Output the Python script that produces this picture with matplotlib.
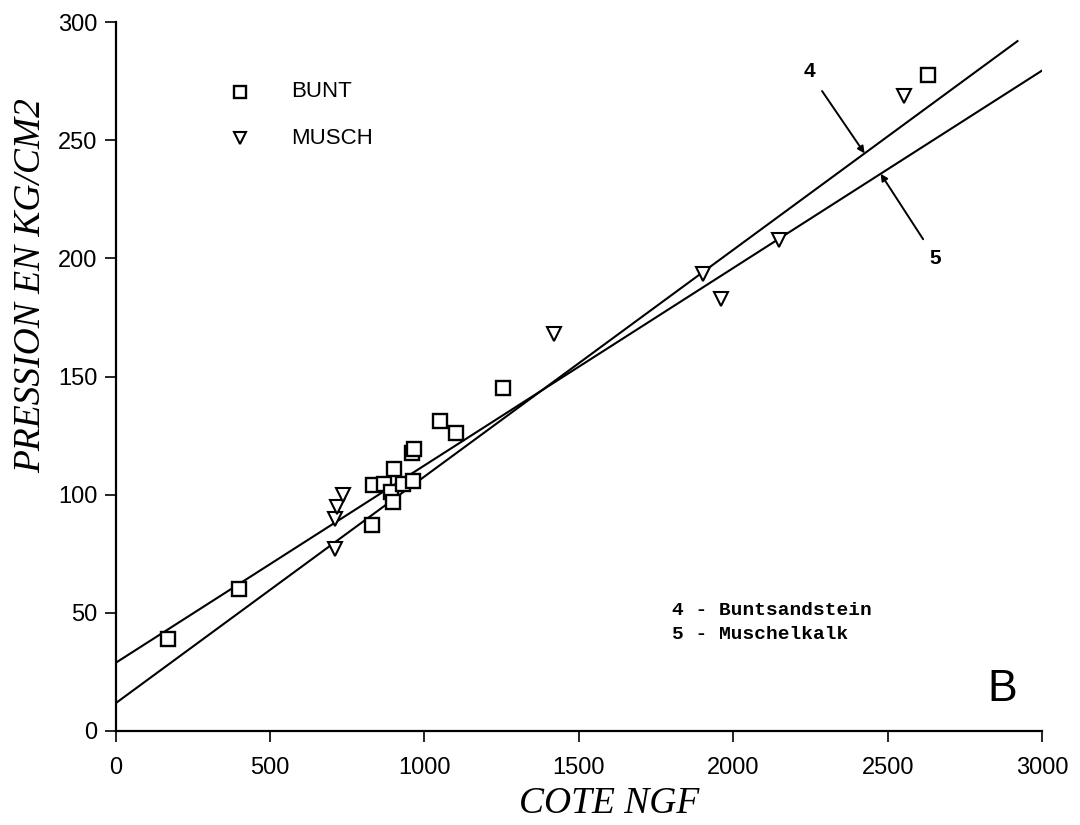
import matplotlib
matplotlib.use("Agg")
import matplotlib.pyplot as plt
import numpy as np

# ---- data ----
bunt_x = [170, 400, 829, 834, 869, 893, 899, 900, 929, 963, 960, 967, 1051, 1103, 1253, 2629]
bunt_y = [39, 60, 87, 104, 104.5, 101, 97, 111, 104.5, 106, 117.5, 119.5, 131, 126, 145, 277.5]
musch_x = [710, 710, 717, 737, 1419, 1902, 1959, 2147, 2554]
musch_y = [77, 89.6, 95, 100, 168, 193.5, 183, 208, 269]

line_labels = ["4", "5"]
line_intercepts = [11.7, 28.8]
line_slopes = [0.0960, 0.0836]
line_xmax = [2920, 3000]

x_ticks = [0, 500, 1000, 1500, 2000, 2500, 3000]
y_ticks = [0, 50, 100, 150, 200, 250, 300]

sans = "Liberation Sans"
serif = "Liberation Serif"
mono = "Liberation Mono"

fig = plt.figure(figsize=(10.8, 8.25), dpi=100)
ax = fig.add_axes([0.107, 0.114, 0.858, 0.859])

for b, m, xm in zip(line_intercepts, line_slopes, line_xmax):
    xs = np.array([0, xm])
    ax.plot(xs, b + m * xs, color="black", lw=1.5, zorder=2)

ax.plot(bunt_x, bunt_y, ls="none", marker="s", ms=10.5, mfc="white", mec="black",
        mew=1.7, zorder=3)
ax.plot(musch_x, musch_y, ls="none", marker="v", ms=10.5, mfc="white", mec="black",
        mew=1.5, zorder=3)

# legend (drawn manually as in original)
ax.plot([402], [270.5], ls="none", marker="s", ms=8.5, mfc="white", mec="black", mew=1.7)
ax.plot([402], [251], ls="none", marker="v", ms=8.5, mfc="white", mec="black", mew=1.5)
ax.text(568, 270.5, "BUNT", fontsize=16, family=sans, va="center", ha="left")
ax.text(568, 251, "MUSCH", fontsize=16, family=sans, va="center", ha="left")

# arrows with labels
ax.annotate("4", xy=(2425, 11.7 + 0.0960 * 2425), xytext=(2245, 279),
            fontsize=15, fontweight="bold", family=sans, ha="center", va="center",
            arrowprops=dict(arrowstyle="-|>", color="black", lw=1.4,
                            shrinkA=6, shrinkB=0, mutation_scale=10))
ax.annotate("5", xy=(2477, 28.8 + 0.0836 * 2477), xytext=(2655, 200),
            fontsize=15, fontweight="bold", family=sans, ha="center", va="center",
            arrowprops=dict(arrowstyle="-|>", color="black", lw=1.4,
                            shrinkA=6, shrinkB=0, mutation_scale=10))

ax.text(1800, 51, "4 - Buntsandstein", fontsize=14, family=mono, fontweight="bold",
        va="center", ha="left")
ax.text(1800, 41, "5 - Muschelkalk", fontsize=14, family=mono, fontweight="bold",
        va="center", ha="left")

ax.text(2872, 17.5, "B", fontsize=32, family=sans, va="center", ha="center")

ax.set_xlim(0, 3000)
ax.set_ylim(0, 300)
ax.set_xticks(x_ticks)
ax.set_yticks(y_ticks)
ax.set_xticklabels([str(t) for t in x_ticks], family=sans, fontsize=17)
ax.set_yticklabels([str(t) for t in y_ticks], family=sans, fontsize=17)
ax.tick_params(direction="out", length=8, width=1.2)
ax.tick_params(axis="x", pad=11)
ax.tick_params(axis="y", pad=5)

for s in ["top", "right"]:
    ax.spines[s].set_visible(False)
for s in ["left", "bottom"]:
    ax.spines[s].set_linewidth(1.6)

ax.set_xlabel("COTE NGF", family=serif, style="italic", fontsize=27)
ax.set_ylabel("PRESSION EN KG/CM2", family=serif, style="italic", fontsize=27)
ax.xaxis.set_label_coords(0.533, -0.079)
ax.yaxis.set_label_coords(-0.073, 0.629)

fig.savefig("out.png", dpi=100)
